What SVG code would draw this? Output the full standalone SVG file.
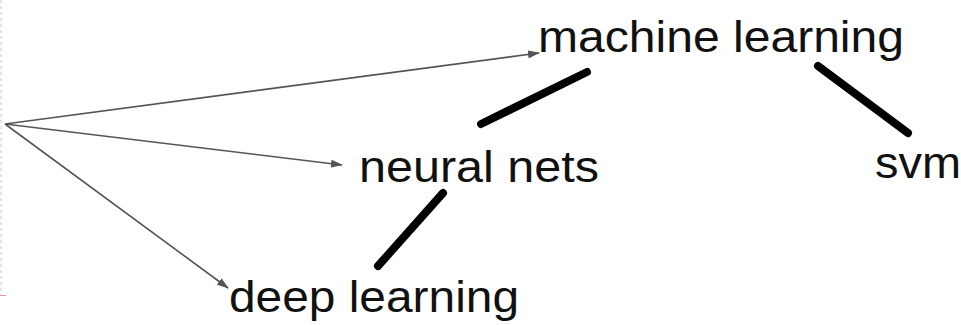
<svg xmlns="http://www.w3.org/2000/svg" width="961" height="325" viewBox="0 0 961 325">
<style>
text{font-family:"Liberation Sans",Arial,sans-serif;font-size:45px;fill:#111}
.arrow{stroke:#555;stroke-width:1.6;fill:none}
.stroke{stroke:#000;stroke-width:8;stroke-linecap:round;fill:none}
</style>
<defs>
<marker id="ah" viewBox="0 0 12 8" refX="11" refY="4" markerWidth="12" markerHeight="8" markerUnits="userSpaceOnUse" orient="auto">
<path d="M0,0 L12,4 L0,8 Z" fill="#555"/>
</marker>
</defs>
<rect width="961" height="325" fill="#fff"/>
<line x1="1" y1="0" x2="1" y2="295" stroke="#ccc" stroke-width="1" stroke-dasharray="3 3"/>
<line x1="0" y1="295.5" x2="6" y2="295.5" stroke="#d9a0a0" stroke-width="1"/>
<g id="connectors">
<line class="arrow" x1="5" y1="124" x2="539" y2="53" marker-end="url(#ah)"/>
<line class="arrow" x1="5" y1="124" x2="342" y2="165" marker-end="url(#ah)"/>
<line class="arrow" x1="5" y1="124" x2="228" y2="288" marker-end="url(#ah)"/>
<line class="stroke" x1="481" y1="124" x2="587" y2="72"/>
<line class="stroke" x1="818" y1="66" x2="908" y2="133"/>
<line class="stroke" x1="443" y1="193" x2="378" y2="266"/>
</g>
<g id="machine-learning"><text x="538" y="52" textLength="366" lengthAdjust="spacingAndGlyphs">machine learning</text></g>
<g id="neural-nets"><text x="359" y="182" textLength="240" lengthAdjust="spacingAndGlyphs">neural nets</text></g>
<g id="svm"><text x="875" y="178" textLength="86" lengthAdjust="spacingAndGlyphs">svm</text></g>
<g id="deep-learning"><text x="229" y="312" textLength="290" lengthAdjust="spacingAndGlyphs">deep learning</text></g>
</svg>
